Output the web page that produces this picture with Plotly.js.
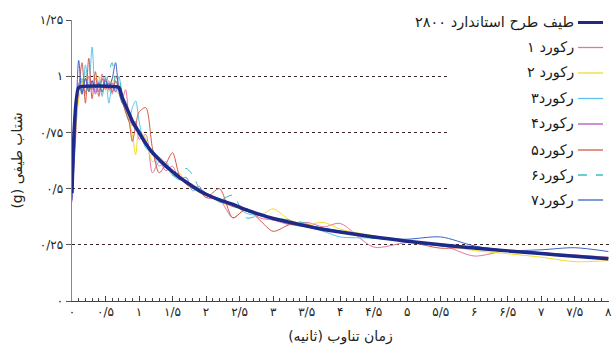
<!DOCTYPE html>
<html>
<head>
<meta charset="utf-8">
<script src="https://cdn.plot.ly/plotly-3.0.1.min.js"></script>
<style>html,body{margin:0;padding:0;background:#fff;}#chart{width:612px;height:361px;}</style>
</head>
<body>
<div id="chart"></div>
<script>
// Period (s) for the standard design spectrum
const T_std = [0, 0.1, 0.7, 0.75, 0.8, 0.85, 0.9, 0.95, 1.0, 1.1, 1.2, 1.3, 1.4, 1.5, 1.6, 1.7, 1.8, 1.9, 2.0, 2.2, 2.4, 2.6, 2.8, 3.0, 3.25, 3.5, 3.75, 4.0, 4.5, 5.0, 5.5, 6.0, 6.5, 7.0, 7.5, 8.0];
const std2800 = [0.48, 0.95, 0.95, 0.905, 0.87, 0.835, 0.80, 0.775, 0.75, 0.70, 0.66, 0.63, 0.60, 0.575, 0.55, 0.53, 0.51, 0.49, 0.475, 0.45, 0.43, 0.405, 0.385, 0.367, 0.35, 0.333, 0.318, 0.307, 0.285, 0.266, 0.25, 0.236, 0.223, 0.211, 0.199, 0.188];

// Period (s) for the record spectra
const T_rec = [0, 0.05, 0.1, 0.15, 0.2, 0.25, 0.3, 0.35, 0.4, 0.45, 0.5, 0.55, 0.6, 0.65, 0.7, 0.75, 0.8, 0.85, 0.9, 0.95, 1.0, 1.1, 1.2, 1.3, 1.4, 1.5, 1.6, 1.7, 1.8, 1.9, 2.0, 2.2, 2.4, 2.6, 2.8, 3.0, 3.25, 3.5, 3.75, 4.0, 4.5, 5.0, 5.5, 6.0, 6.5, 7.0, 7.5, 8.0];
const rec1 = [0.44, 0.70, 0.93, 0.98, 0.92, 1.00, 0.94, 0.99, 0.93, 1.01, 0.95, 0.98, 0.92, 1.00, 0.96, 0.90, 0.94, 0.82, 0.78, 0.80, 0.72, 0.74, 0.57, 0.62, 0.58, 0.60, 0.54, 0.55, 0.50, 0.51, 0.46, 0.45, 0.37, 0.41, 0.37, 0.36, 0.34, 0.35, 0.33, 0.345, 0.24, 0.26, 0.25, 0.20, 0.225, 0.215, 0.205, 0.195];
const rec2 = [0.47, 0.74, 0.90, 0.96, 1.02, 0.93, 0.97, 0.94, 1.00, 0.92, 0.97, 0.93, 0.99, 0.94, 0.92, 0.88, 0.85, 0.80, 0.74, 0.65, 0.76, 0.72, 0.62, 0.64, 0.61, 0.56, 0.57, 0.52, 0.52, 0.48, 0.48, 0.44, 0.42, 0.40, 0.38, 0.41, 0.36, 0.34, 0.35, 0.32, 0.29, 0.265, 0.25, 0.225, 0.21, 0.195, 0.175, 0.18];
const rec3 = [0.50, 0.80, 0.96, 0.92, 1.05, 0.95, 1.13, 0.93, 0.98, 0.91, 1.00, 0.88, 0.96, 0.93, 1.00, 0.90, 0.84, 0.80, 0.86, 0.89, 0.80, 0.68, 0.66, 0.60, 0.62, 0.56, 0.54, 0.55, 0.49, 0.50, 0.48, 0.44, 0.43, 0.39, 0.38, 0.37, 0.34, 0.33, 0.31, 0.285, 0.28, 0.265, 0.25, 0.235, 0.22, 0.21, 0.20, 0.19];
const rec4 = [0.46, 0.76, 0.97, 0.93, 0.99, 0.94, 0.98, 0.92, 0.97, 0.95, 0.99, 0.94, 0.97, 0.93, 0.95, 0.91, 0.86, 0.84, 0.79, 0.78, 0.74, 0.71, 0.66, 0.62, 0.61, 0.57, 0.56, 0.52, 0.51, 0.49, 0.47, 0.45, 0.42, 0.41, 0.38, 0.37, 0.35, 0.34, 0.32, 0.31, 0.285, 0.265, 0.245, 0.235, 0.22, 0.21, 0.2, 0.19];
const rec5 = [0.48, 0.78, 0.94, 1.06, 0.88, 1.08, 0.90, 1.02, 0.91, 0.99, 0.94, 0.97, 0.93, 0.98, 0.94, 0.89, 0.84, 0.80, 0.71, 0.78, 0.84, 0.86, 0.68, 0.57, 0.61, 0.66, 0.56, 0.52, 0.50, 0.49, 0.46, 0.50, 0.37, 0.41, 0.36, 0.31, 0.34, 0.34, 0.32, 0.31, 0.285, 0.265, 0.235, 0.24, 0.225, 0.215, 0.20, 0.19];
const rec6 = [0.49, 0.77, 0.95, 0.99, 0.93, 0.98, 0.95, 0.97, 0.94, 0.99, 0.96, 1.02, 1.06, 0.97, 0.99, 0.92, 0.87, 0.82, 0.80, 0.77, 0.74, 0.70, 0.65, 0.62, 0.60, 0.56, 0.55, 0.59, 0.56, 0.50, 0.47, 0.45, 0.47, 0.37, 0.38, 0.37, 0.36, 0.345, 0.32, 0.305, 0.29, 0.265, 0.245, 0.235, 0.225, 0.21, 0.20, 0.19];
const rec7 = [0.45, 0.73, 1.07, 0.92, 0.99, 0.93, 0.98, 0.95, 0.97, 0.93, 0.98, 0.95, 0.99, 1.06, 0.93, 0.88, 0.86, 0.83, 0.79, 0.76, 0.75, 0.70, 0.67, 0.63, 0.60, 0.58, 0.55, 0.53, 0.51, 0.49, 0.47, 0.45, 0.43, 0.40, 0.385, 0.365, 0.35, 0.335, 0.325, 0.31, 0.28, 0.275, 0.285, 0.245, 0.225, 0.228, 0.237, 0.22];

const seriesNames = ['رکورد ۱', 'رکورد ۲', 'رکورد۳', 'رکورد۴', 'رکورد۵', 'رکورد۶', 'رکورد۷'];
const stdName = 'طیف طرح استاندارد ۲۸۰۰';

const xTickVals = [0, 0.5, 1, 1.5, 2, 2.5, 3, 3.5, 4, 4.5, 5, 5.5, 6, 6.5, 7, 7.5, 8];
const xTickText = ['۰', '۰/۵', '۱', '۱/۵', '۲', '۲/۵', '۳', '۳/۵', '۴', '۴/۵', '۵', '۵/۵', '۶', '۶/۵', '۷', '۷/۵', '۸'];
const yTickVals = [0, 0.25, 0.5, 0.75, 1, 1.25];
const yTickText = ['۰', '۰/۲۵', '۰/۵', '۰/۷۵', '۱', '۱/۲۵'];

const recs = [rec1, rec2, rec3, rec4, rec5, rec6, rec7];
const colors = ['#e8739f', '#f2dc2c', '#5ec4ee', '#b356c5', '#d35a4a', '#3dbcc0', '#3a63c8'];
const dashes = ['solid', 'solid', 'solid', 'solid', 'solid', 'dash', 'solid'];
const stdColor = '#1e2a8a';
const FONT = 'DejaVu Sans';
const RLE = '\u202B', PDF = '\u202C';

const traces = recs.map((r, i) => ({
  x: T_rec, y: r, type: 'scatter', mode: 'lines', name: seriesNames[i],
  line: {color: colors[i], width: 1, dash: dashes[i], shape: 'spline', smoothing: 0.8},
  showlegend: false
}));
traces.push({
  x: T_std, y: std2800, type: 'scatter', mode: 'lines', name: stdName,
  line: {color: stdColor, width: 3.5, shape: 'spline', smoothing: 0.3}, showlegend: false
});

// manual RTL legend (line sample on the right of the text)
const legY = [22.5, 47.5, 73, 98.5, 124, 150, 175, 200];
const legNames = [stdName].concat(seriesNames);
const legColors = [stdColor].concat(colors);
const legDash = ['solid'].concat(dashes);
const legWidth = [3, 1.3, 1.3, 1.3, 1.3, 1.3, 1.3, 1.3];
const PW = 537, PH = 281, L = 72, T = 20;
const shapes = [{
  type: 'rect', xref: 'paper', yref: 'paper', layer: 'above',
  x0: (449 - L) / PW, x1: 1.01, y0: 1 - (212 - T) / PH, y1: 1.0,
  fillcolor: '#ffffff', line: {width: 0}
}];
const annotations = [];
legNames.forEach((n, i) => {
  const yp = 1 - (legY[i] - T) / PH;
  shapes.push({
    type: 'line', xref: 'paper', yref: 'paper', layer: 'above',
    x0: (578 - L) / PW, x1: (603 - L) / PW, y0: yp, y1: yp,
    line: {color: legColors[i], width: legWidth[i], dash: legDash[i]}
  });
  annotations.push({
    xref: 'paper', yref: 'paper', x: (575 - L) / PW, y: yp, xanchor: 'right', yanchor: 'middle',
    text: n, showarrow: false, font: {family: FONT, size: 14.5, color: '#1a1a1a'},
    bgcolor: '#ffffff', borderpad: 0
  });
});

const layout = {
  width: 612, height: 361,
  margin: {l: L, r: 3, t: T, b: 60},
  paper_bgcolor: '#ffffff', plot_bgcolor: '#ffffff',
  font: {family: FONT, color: '#222'},
  xaxis: {
    range: [0, 8.01], tickmode: 'array', tickvals: xTickVals, ticktext: xTickText,
    ticks: 'inside', ticklen: 5, tickcolor: '#444', showgrid: false, zeroline: false,
    showline: true, linecolor: '#444', linewidth: 1, ticklabeloverflow: 'allow',
    tickfont: {family: FONT, size: 12, color: '#222'},
    minor: {dtick: 0.1, tick0: 0, ticks: 'inside', ticklen: 3, tickcolor: '#444', showgrid: false},
    title: {text: RLE + 'زمان تناوب (ثانیه)' + PDF, font: {family: FONT, size: 14, color: '#222'}, standoff: 12}
  },
  yaxis: {
    range: [0, 1.25], tickmode: 'array', tickvals: yTickVals, ticktext: yTickText,
    ticks: 'outside', ticklen: 5, tickcolor: '#555',
    showgrid: true, gridcolor: '#3a2424', griddash: 'dot', gridwidth: 1, zeroline: false,
    showline: true, linecolor: '#888', linewidth: 1.5,
    tickfont: {family: FONT, size: 12, color: '#222'},
    title: {text: RLE + 'شتاب طیفی (g)' + PDF, font: {family: FONT, size: 14, color: '#222'}, standoff: 14}
  },
  shapes: shapes,
  annotations: annotations
};

Plotly.newPlot('chart', traces, layout, {displayModeBar: false, staticPlot: true});
</script>
</body>
</html>
